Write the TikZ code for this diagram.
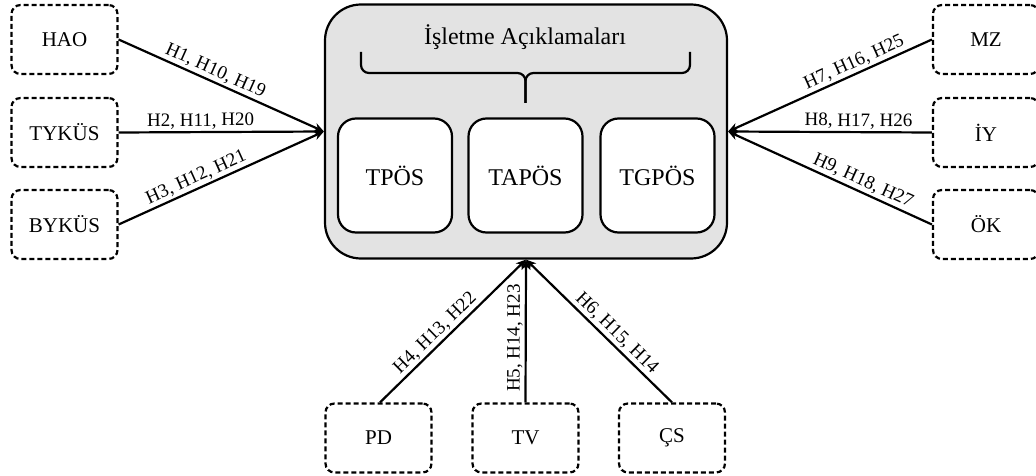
\documentclass[tikz,border=0pt]{standalone}
\usepackage{fontspec}
\setmainfont{Liberation Serif}
\usetikzlibrary{arrows.meta}
\begin{document}
\begin{tikzpicture}[x=1pt,y=1pt,
  dbox/.style={draw,line width=2.2pt,dash pattern=on 5pt off 3pt,rounded corners=9pt,
    minimum width=106pt,minimum height=69pt,inner sep=0pt,font=\fontsize{21}{24}\selectfont},
  ibox/.style={draw,line width=2.2pt,fill=white,rounded corners=18pt,
    minimum width=114pt,minimum height=114pt,inner sep=0pt,font=\fontsize{24}{28}\selectfont},
  conn/.style={line width=2.2pt,-{Stealth[length=10pt,width=9pt]}},
  bracket/.style={line width=2.2pt,rounded corners=8pt},
  lab/.style={sloped,above,inner sep=2pt,font=\fontsize{19}{22}\selectfont}]
\useasboundingbox (0,0) rectangle (1036,-476);
% main box
\node[draw,line width=2.2pt,fill=black!11,rounded corners=36pt,minimum width=402pt,minimum height=254pt,inner sep=0pt] (main) at (526,-131.5) {};
\node[font=\fontsize{24}{28}\selectfont] (title) at (525,-37) {İşletme Açıklamaları};
\coordinate (bl) at (361,-52);
\coordinate (br) at (690,-52);
\coordinate (bm) at (525.5,-73);
\coordinate (btip) at (525.5,-103);
\draw[bracket] (bl) -- (bl |- bm) -- (bm) -- (btip);
\draw[bracket] (br) -- (br |- bm) -- (bm) -- (btip);
\node[ibox] (tpos) at (395,-175.5) {TPÖS};
\node[ibox] (tapos) at (525.5,-175.5) {TAPÖS};
\node[ibox] (tgpos) at (657.5,-175.5) {TGPÖS};
% left boxes
\node[dbox] (hao) at (64.5,-39.5) {HAO};
\node[dbox] (tykus) at (64.5,-132.5) {TYKÜS};
\node[dbox] (bykus) at (64.5,-224.5) {BYKÜS};
% right boxes
\node[dbox] (mz) at (986,-39.5) {MZ};
\node[dbox] (iy) at (986,-132.5) {İY};
\node[dbox] (ok) at (986,-224.5) {ÖK};
% bottom boxes
\node[dbox] (pd) at (378.5,-438) {PD};
\node[dbox] (tv) at (525.5,-438) {TV};
\node[dbox] (cs) at (672,-438) {ÇS};
% target points
\coordinate (lt) at (main.west);
\coordinate (rt) at (main.east);
\coordinate (bt) at (main.south);
\draw[conn] (hao.east) -- node[lab,pos=0.45] {H1, H10, H19} (lt);
\draw[conn] (tykus.east) -- node[lab,pos=0.4] {H2, H11, H20} (lt);
\draw[conn] (bykus.east) -- node[lab,pos=0.4] {H3, H12, H21} (lt);
\draw[conn] (mz.west) -- node[lab,pos=0.36] {H7, H16, H25} (rt);
\draw[conn] (iy.west) -- node[lab,pos=0.36] {H8, H17, H26} (rt);
\draw[conn] (ok.west) -- node[lab,pos=0.36] {H9, H18, H27} (rt);
\draw[conn] ([xshift=1.5pt]pd.north) -- node[lab,pos=0.43] {H4, H13, H22} (bt);
\draw[conn] (tv.north) -- node[lab,pos=0.45] {H5, H14, H23} (bt);
\draw[conn] (cs.north) -- node[lab,pos=0.43] {H6, H15, H14} (bt);
\end{tikzpicture}
\end{document}
